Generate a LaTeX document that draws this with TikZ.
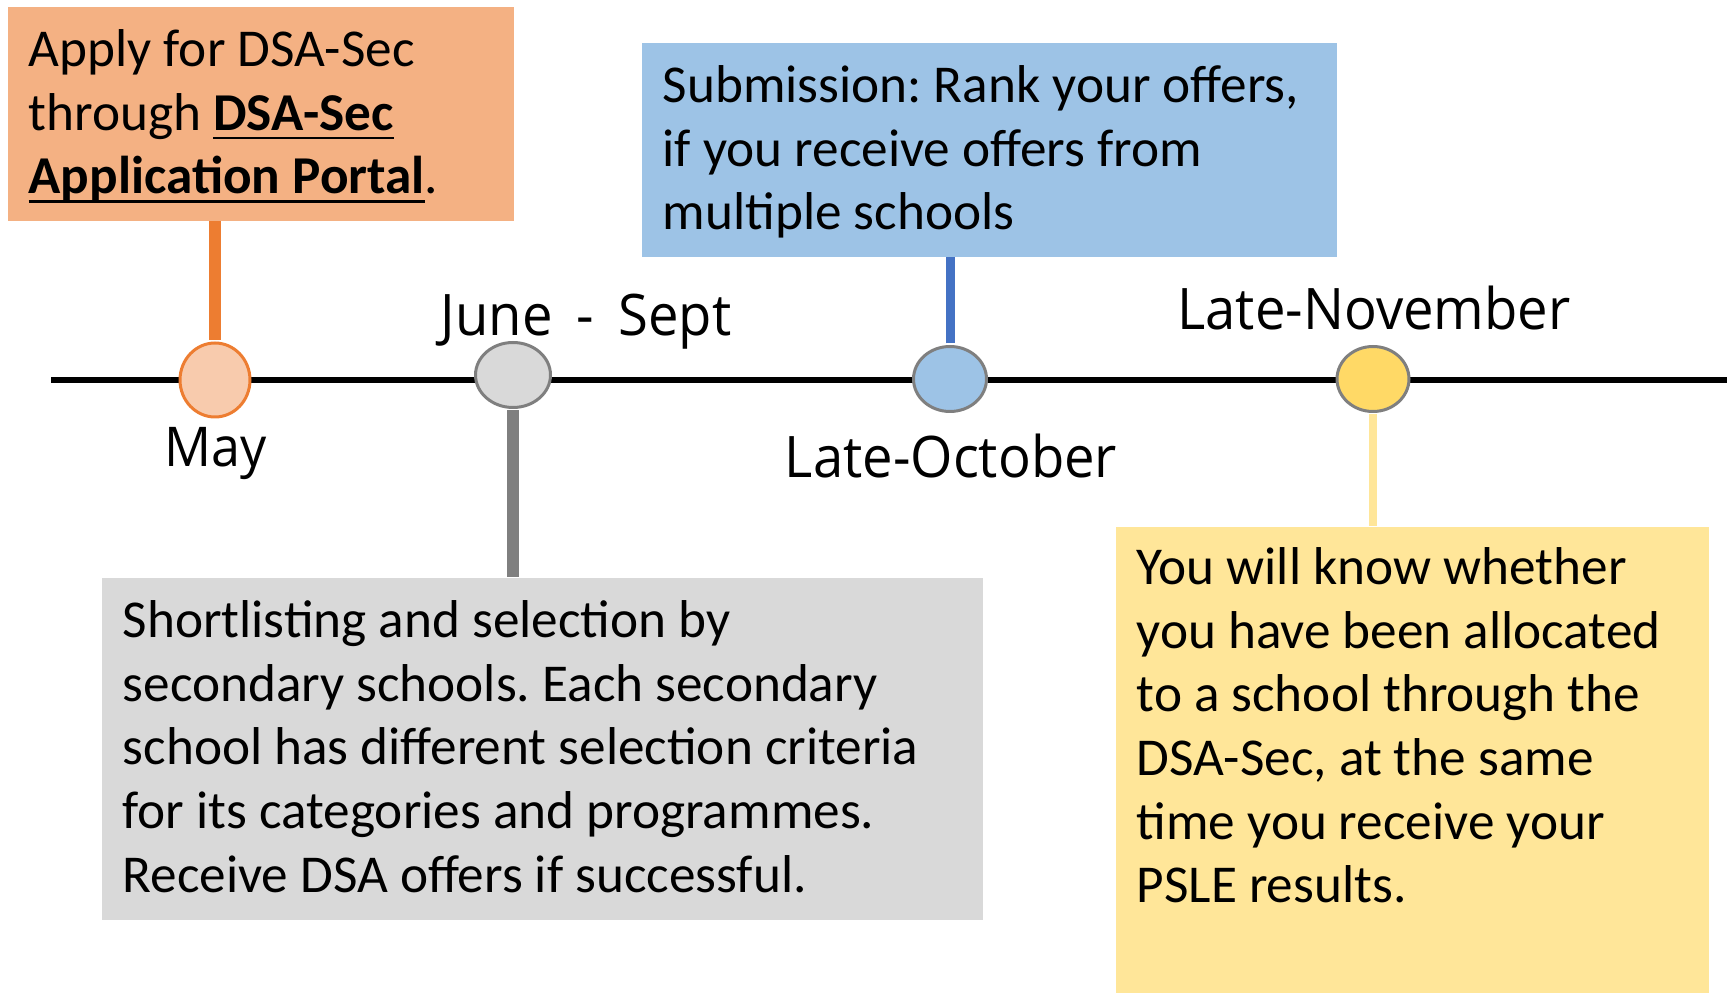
\documentclass[tikz,border=0pt]{standalone}
\usepackage{fontspec}
\setmainfont{Carlito}
\newfontfamily\datefont[FakeStretch=0.95]{Open Sans}
\usetikzlibrary{shapes.geometric}
\newsavebox{\portalbox}
\newcommand{\infofont}{\fontsize{15.15pt}{18.1pt}\selectfont}
\newcommand{\portal}[1]{\leavevmode\sbox{\portalbox}{\textbf{#1}}\rlap{\rule[-0.9mm]{\wd\portalbox}{0.7pt}}\usebox{\portalbox}}
\definecolor{applybg}{HTML}{F4B183}
\definecolor{applyline}{HTML}{ED7D31}
\definecolor{maybg}{HTML}{F8CBAD}
\definecolor{shortbg}{HTML}{D9D9D9}
\definecolor{dotline}{HTML}{7F7F7F}
\definecolor{rankbg}{HTML}{9DC3E6}
\definecolor{rankline}{HTML}{4472C4}
\definecolor{resultbg}{HTML}{FFE699}
\definecolor{resultdot}{HTML}{FFD966}
\begin{document}
\begin{tikzpicture}[x=0.1mm,y=-0.1mm,
  infobox/.style={anchor=north west,align=flush left,inner xsep=2.1mm,inner ysep=0pt,text height=6mm,font=\infofont,
    execute at begin node={\spaceskip=0pt\xspaceskip=0pt\frenchspacing}},
  dot/.style={ellipse,draw=dotline,line width=0.3mm,inner sep=0pt},
  datelbl/.style={anchor=base,inner sep=0pt,font={\datefont\fontsize{16.3pt}{19pt}\selectfont}}]
\useasboundingbox (0,0) rectangle (1727,993);
\coordinate (tl start) at (51,380);
\coordinate (tl end) at (1727,380);
\draw[line width=0.55mm] (tl start) -- (tl end);

\node[infobox,fill=applybg,text width=46.4mm,text depth=15.4mm] (apply) at (7,6)
  {Apply for DSA-Sec\\through \portal{DSA-Sec}\\\portal{Application Portal}.};
\node[infobox,fill=rankbg,text width=65.3mm,text depth=15.4mm] (rank) at (641,42)
  {Submission: Rank your offers,\\if you receive offers from\\multiple schools};
\node[infobox,fill=shortbg,text width=83.9mm,text depth=28.2mm] (shortlist) at (101,577)
  {Shortlisting and selection by\\secondary schools. Each secondary\\school has different selection criteria\\for its categories and programmes.\\Receive DSA offers if successful.};
\node[infobox,fill=resultbg,text width=55.1mm,text height=5.8mm,text depth=40.9mm] (result) at (1115,526)
  {You will know whether\\you have been allocated\\to a school through the\\DSA-Sec, at the same\\time you receive your\\PSLE results.};

\node[dot,draw=applyline,fill=maybg,minimum width=7mm,minimum height=7.4mm] (may) at (215,380) {};
\node[dot,fill=shortbg,minimum width=7.5mm,minimum height=6.5mm] (junesept) at (513,375) {};
\node[dot,fill=rankbg,minimum width=7.3mm,minimum height=6.5mm] (lateoct) at (950,379) {};
\node[dot,fill=resultdot,minimum width=7.2mm,minimum height=6.5mm] (latenov) at (1373,379) {};

\draw[applyline,line width=1.2mm,shorten <=0.15mm] (may.north) -- (may.north |- apply.south);
\draw[dotline,line width=1.2mm,shorten <=0.15mm] (junesept.south) -- (junesept.south |- shortlist.north);
\draw[rankline,line width=0.9mm,shorten <=0.15mm] (lateoct.north) -- (lateoct.north |- rank.south);
\draw[resultbg,line width=0.8mm,shorten <=0.15mm] (latenov.south) -- (latenov.south |- result.north);

\node[datelbl,font={\datefont\fontsize{15.6pt}{18pt}\selectfont}] (maylbl) at (216,467) {May};
\node[datelbl] (junelbl) at (586,336) {June\hspace{1mm} - \hspace{1mm}Sept};
\node[datelbl] (octlbl) at (951,478) {Late-October};
\node[datelbl] (novlbl) at (1374,330) {Late-November};
\end{tikzpicture}
\end{document}
